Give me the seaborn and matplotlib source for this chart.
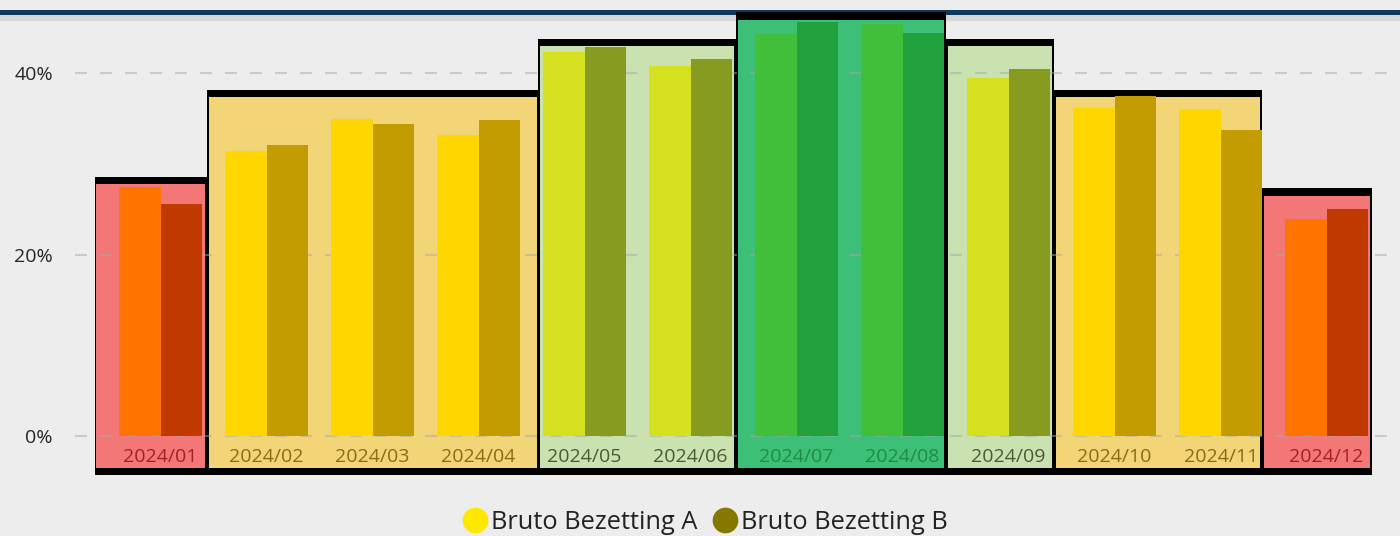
import matplotlib
matplotlib.use("Agg")
import matplotlib.pyplot as plt
from matplotlib.lines import Line2D
import seaborn as sns
import pandas as pd

# ---------------- data ----------------
months = ["2024/01", "2024/02", "2024/03", "2024/04", "2024/05", "2024/06",
          "2024/07", "2024/08", "2024/09", "2024/10", "2024/11", "2024/12"]
bruto_a = [27.5, 31.4, 34.9, 33.2, 42.3, 40.8, 44.3, 45.4, 39.5, 36.2, 36.1, 23.9]
bruto_b = [25.6, 32.1, 34.4, 34.8, 42.9, 41.6, 45.6, 44.4, 40.5, 37.5, 33.7, 25.0]
month_band = ["red", "yellow", "yellow", "yellow", "lime", "lime",
              "green", "green", "lime", "yellow", "yellow", "red"]
series_names = ["Bruto Bezetting A", "Bruto Bezetting B"]

band_first = [0, 1, 4, 6, 8, 9, 11]
band_last = [0, 3, 5, 7, 8, 10, 11]
band_top = [28.6, 38.2, 43.8, 46.7, 43.8, 38.2, 27.3]
band_kind = ["red", "yellow", "lime", "green", "lime", "yellow", "red"]
band_floor = -4.3

y_ticks = [0, 20, 40]
y_tick_labels = ["0%", "20%", "40%"]

# ---------------- style ----------------
band_fill = {"red": "#F47777", "yellow": "#F2D576", "lime": "#C9E2B0", "green": "#3CBF77"}
bar_a_col = {"red": "#FF7300", "yellow": "#FFD700", "lime": "#D5E11F", "green": "#41BF3A"}
bar_b_col = {"red": "#C03A00", "yellow": "#C29C00", "lime": "#879B20", "green": "#20A13C"}
label_col = {"red": "#A81E28", "yellow": "#8A6C12", "lime": "#4B5A34", "green": "#1E8C46"}
legend_cols = ["#FFE800", "#857800"]
bg = "#EDEDED"
# small nudges of the band boundaries (in category units), left edge first
edge_nudge = [-0.124, -0.06, 0.064, -0.07, -0.09, -0.07, -0.11, -0.07]

sns.set_theme(style="white")
plt.rcParams["font.family"] = ["Open Sans", "DejaVu Sans"]
plt.rcParams["lines.scale_dashes"] = False

W, H = 1400, 536
fig = plt.figure(figsize=(W / 100, H / 100), dpi=100, facecolor=bg)
ax = fig.add_axes([75 / W, (H - 478) / H, (W - 75) / W, 478 / H])
ax.set_facecolor("none")

df = pd.DataFrame({
    "month": months * 2,
    "value": bruto_a + bruto_b,
    "series": [series_names[0]] * len(months) + [series_names[1]] * len(months),
})

sns.barplot(data=df, x="month", y="value", hue="series", hue_order=series_names,
            order=months, width=0.78, dodge=True, errorbar=None, ax=ax,
            linewidth=0, saturation=1, legend=False)

# recolour bars per month band
n = len(months)
for i, p in enumerate(ax.patches[: 2 * n]):
    s, m = divmod(i, n)
    cmap = bar_a_col if s == 0 else bar_b_col
    p.set_facecolor(cmap[month_band[m]])
    p.set_edgecolor("none")
    p.set_zorder(3)

# background bands
side = 0.017      # black side border in category units
top_band = 0.85   # black top band in %
bot_band = 0.8
for j, (f, l, t, k) in enumerate(zip(band_first, band_last, band_top, band_kind)):
    left = f - 0.5 + edge_nudge[j]
    right = l + 0.5 + edge_nudge[j + 1]
    c = (left + right) / 2
    w = right - left
    ax.bar(c, t - band_floor, bottom=band_floor, width=w, color="black",
           linewidth=0, zorder=1)
    ax.bar(c, (t - top_band) - (band_floor + bot_band), bottom=band_floor + bot_band,
           width=w - 2 * side, color=band_fill[k], linewidth=0, zorder=1.2)

# gridlines
for yv in y_ticks:
    ax.axhline(yv, color="#A8A8A8", alpha=0.5, lw=1.5,
               linestyle=(0, (8.6, 9.4)), zorder=2)

# month labels inside the bands
for i, m in enumerate(months):
    ax.text(i, -2.3, m, ha="center", va="center", fontsize=14,
            color=label_col[month_band[i]], zorder=4)

ax.set_xlim(-0.808, 11.692)
ax.set_ylim(-42 / 9.085, 436.7 / 9.085)
ax.set_xticks([])
ax.set_xlabel("")
ax.set_ylabel("")
ax.set_yticks(y_ticks)
ax.set_yticklabels(y_tick_labels, fontsize=14, color="#252525")
ax.tick_params(axis="y", length=0, pad=16)
for sp in ax.spines.values():
    sp.set_visible(False)

# top navy rule with soft shadow
fig.add_artist(Line2D([0, 1], [1 - 17 / H, 1 - 17 / H], transform=fig.transFigure,
                      color="#C8C8C8", lw=5, alpha=0.6, zorder=-2))
fig.add_artist(Line2D([0, 1], [1 - 11.5 / H, 1 - 11.5 / H], transform=fig.transFigure,
                      color="#0D3A5C", lw=3.6, zorder=-1))

# legend
handles = [Line2D([], [], marker="o", linestyle="none", markersize=18.5,
                  markerfacecolor=c, markeredgecolor="none") for c in legend_cols]
fig.legend(handles, series_names, loc="center", bbox_to_anchor=(0.5036, 0.025),
           ncol=2, frameon=False, fontsize=18.3, handletextpad=0.12,
           columnspacing=0.6, handlelength=1.0, labelcolor="#222222",
           borderaxespad=0)

fig.savefig("out.png", dpi=100, facecolor=bg)
